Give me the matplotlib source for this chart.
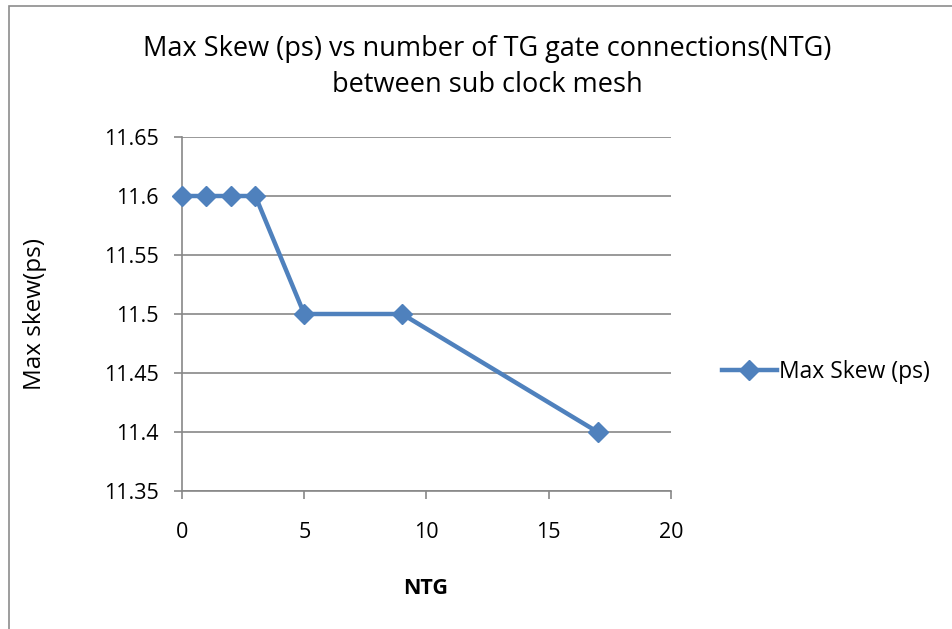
import matplotlib.pyplot as plt
from matplotlib.patches import Rectangle

# Data
ntg = [0, 1, 2, 3, 5, 9, 17]
max_skew = [11.6, 11.6, 11.6, 11.6, 11.5, 11.5, 11.4]
y_ticks = [11.35, 11.4, 11.45, 11.5, 11.55, 11.6, 11.65]
y_tick_labels = ['11.35', '11.4', '11.45', '11.5', '11.55', '11.6', '11.65']
x_ticks = [0, 5, 10, 15, 20]

plt.rcParams['font.family'] = ['Open Sans', 'DejaVu Sans']

W, H = 953, 629
fig = plt.figure(figsize=(W / 100, H / 100), dpi=100)

# outer chart border (Excel style)
fig.patches.append(Rectangle((9 / W, -0.1), 1.2, 1 - 6 / H + 0.1, transform=fig.transFigure,
                             fill=False, edgecolor='#8c8c8c', linewidth=1.2))

ax = fig.add_axes([182 / W, 1 - 491 / H, (671 - 182) / W, (491 - 137) / H])
line, = ax.plot(ntg, max_skew, color='#4F81BD', linewidth=3.2, marker='D', markersize=10,
                label='Max Skew (ps)', clip_on=False, zorder=3)

ax.set_xlim(0, 20)
ax.set_ylim(11.35, 11.65)
ax.set_xticks(x_ticks)
ax.set_yticks(y_ticks)
ax.set_yticklabels(y_tick_labels)
ax.yaxis.grid(True, color='#878787', linewidth=1.2)
ax.set_axisbelow(True)
for s in ['top', 'right']:
    ax.spines[s].set_visible(False)
for s in ['left', 'bottom']:
    ax.spines[s].set_color('#878787')
    ax.spines[s].set_linewidth(1.2)
ax.tick_params(axis='both', length=6, width=1.2, color='#878787', labelsize=15.5)
ax.tick_params(axis='y', pad=11)
ax.tick_params(axis='x', pad=16)

fig.text(487 / W, 1 - 67 / H,
         'Max Skew (ps) vs number of TG gate connections(NTG)\nbetween sub clock mesh',
         fontsize=19.5, ha='center', va='center', linespacing=1.38)
fig.text(426 / W, 1 - 588 / H, 'NTG', fontsize=15.5, fontweight='bold', ha='center', va='center')
fig.text(35 / W, 1 - 314 / H, 'Max skew(ps)', fontsize=17.5, rotation=90, ha='center', va='center')

fig.legend(handles=[line], loc='center left', bbox_to_anchor=(722 / W, 1 - 372 / H),
           frameon=False, fontsize=16.5, handlelength=2.4, handletextpad=0.1, borderpad=0,
           borderaxespad=0)

fig.savefig('out.png', dpi=100)
